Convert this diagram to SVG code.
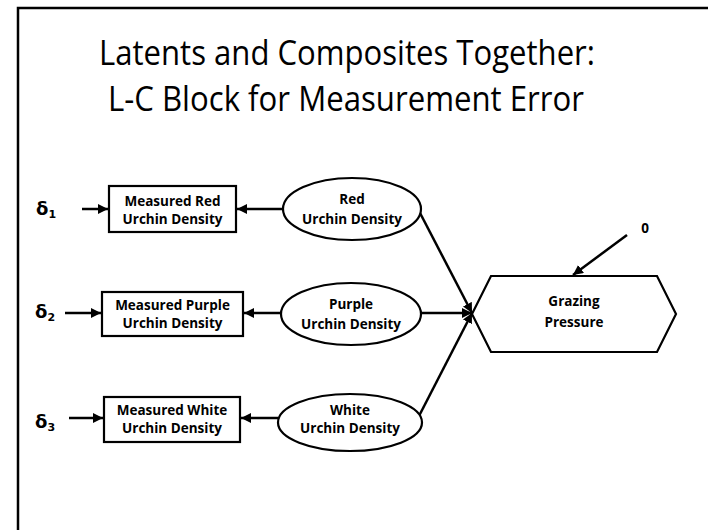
<svg xmlns="http://www.w3.org/2000/svg" width="708" height="530" viewBox="0 0 708 530">
  <defs>
    <marker id="arrow" viewBox="0 0 10 10" refX="10" refY="5" markerWidth="10" markerHeight="10" markerUnits="userSpaceOnUse" orient="auto">
      <path d="M0,0 L10,5 L0,10 z" fill="#000"/>
    </marker>
    <style>
      .title { font-family: "Open Sans", "Liberation Sans", sans-serif; font-size: 34px; fill: #000; text-anchor: middle; }
      .lbl { font-family: "Open Sans", "Liberation Sans", sans-serif; font-size: 13.5px; font-weight: bold; fill: #000; text-anchor: middle; }
      .err { font-family: "DejaVu Sans", sans-serif; font-size: 18px; font-weight: bold; fill: #000; }
      .sub { font-size: 11px; }
      .box { fill: #fff; stroke: #000; stroke-width: 2.2; }
      .edge { fill: none; stroke: #000; stroke-width: 2.5; marker-end: url(#arrow); }
    </style>
  </defs>

  <rect width="708" height="530" fill="#fff"/>
  <!-- slide frame (left and top edges) -->
  <path d="M18,531 V8 H709" fill="none" stroke="#000" stroke-width="2.5"/>

  <text class="title" x="347" y="65" textLength="496" lengthAdjust="spacingAndGlyphs">Latents and Composites Together:</text>
  <text class="title" x="346" y="111" textLength="476" lengthAdjust="spacingAndGlyphs">L-C Block for Measurement Error</text>

  <g id="connectors">
    <!-- error terms into indicators -->
    <line class="edge" x1="82" y1="209" x2="108" y2="209"/>
    <line class="edge" x1="65" y1="313" x2="101" y2="313"/>
    <line class="edge" x1="69" y1="418" x2="103" y2="418"/>
    <!-- latents to indicators -->
    <line class="edge" x1="283" y1="209" x2="237" y2="209"/>
    <line class="edge" x1="281" y1="313" x2="244" y2="313"/>
    <line class="edge" x1="278" y1="418" x2="241" y2="418"/>
    <!-- latents to composite -->
    <line class="edge" x1="419" y1="211" x2="472" y2="313"/>
    <line class="edge" x1="421" y1="313" x2="472" y2="313"/>
    <line class="edge" x1="419" y1="416" x2="472" y2="313"/>
    <!-- zero error on composite -->
    <line class="edge" x1="627" y1="235" x2="573" y2="275"/>
  </g>

  <g id="d1"><text class="err" x="36" y="215">δ<tspan class="sub" dy="3">1</tspan></text></g>
  <g id="d2"><text class="err" x="35" y="318">δ<tspan class="sub" dy="3">2</tspan></text></g>
  <g id="d3"><text class="err" x="35" y="428">δ<tspan class="sub" dy="3">3</tspan></text></g>

  <g id="measured-red">
    <rect class="box" x="109" y="186" width="127" height="46"/>
    <text class="lbl" x="172.5" y="206">Measured Red</text>
    <text class="lbl" x="172.5" y="224">Urchin Density</text>
  </g>
  <g id="measured-purple">
    <rect class="box" x="102" y="292" width="141" height="44"/>
    <text class="lbl" x="172.5" y="310">Measured Purple</text>
    <text class="lbl" x="172.5" y="328">Urchin Density</text>
  </g>
  <g id="measured-white">
    <rect class="box" x="104" y="397" width="136" height="45"/>
    <text class="lbl" x="172" y="415">Measured White</text>
    <text class="lbl" x="172" y="433">Urchin Density</text>
  </g>

  <g id="red">
    <ellipse class="box" cx="352" cy="209" rx="69" ry="31"/>
    <text class="lbl" x="352" y="204">Red</text>
    <text class="lbl" x="352" y="224">Urchin Density</text>
  </g>
  <g id="purple">
    <ellipse class="box" cx="351" cy="314" rx="70" ry="31"/>
    <text class="lbl" x="351" y="309">Purple</text>
    <text class="lbl" x="351" y="329">Urchin Density</text>
  </g>
  <g id="white">
    <ellipse class="box" cx="350" cy="422.5" rx="72" ry="28.5"/>
    <text class="lbl" x="350" y="415">White</text>
    <text class="lbl" x="350" y="433">Urchin Density</text>
  </g>

  <g id="grazing">
    <polygon class="box" stroke-width="2.5" points="472,314 491,276 657,276 676,314 657,352 491,352"/>
    <text class="lbl" x="574" y="306">Grazing</text>
    <text class="lbl" x="574" y="327">Pressure</text>
  </g>

  <g id="zero"><text class="lbl" x="645" y="233">0</text></g>
</svg>
